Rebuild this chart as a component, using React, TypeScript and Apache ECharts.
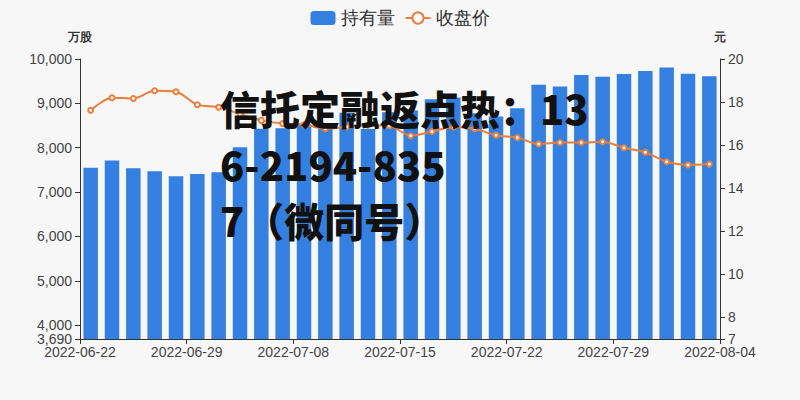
import React, { useEffect, useRef } from 'react';
import * as echarts from 'echarts';
import type { EChartsType } from 'echarts';

const dates = [
  '2022-06-22', '2022-06-23', '2022-06-24', '2022-06-27', '2022-06-28',
  '2022-06-29', '2022-06-30', '2022-07-01', '2022-07-04', '2022-07-05',
  '2022-07-08', '2022-07-11', '2022-07-12', '2022-07-13', '2022-07-14',
  '2022-07-15', '2022-07-18', '2022-07-19', '2022-07-20', '2022-07-21',
  '2022-07-22', '2022-07-25', '2022-07-26', '2022-07-27', '2022-07-28',
  '2022-07-29', '2022-08-01', '2022-08-02', '2022-08-03', '2022-08-04'
];

// 持有量 (万股)
const holdings = [
  7550, 7710, 7540, 7470, 7360, 7410, 7450, 8010, 8430, 8440,
  8530, 8470, 8790, 8420, 8800, 8840, 9095, 9130, 8780, 8705,
  8890, 9420, 9380, 9640, 9600, 9660, 9730, 9810, 9670, 9610
];

// 收盘价 (元)
const closePrice = [
  17.62, 18.2, 18.17, 18.53, 18.48, 17.88, 17.76, 17.45, 17.15, 17.0,
  16.95, 16.76, 16.85, 16.92, 16.9, 16.44, 16.63, 16.84, 16.76, 16.46,
  16.35, 16.05, 16.12, 16.12, 16.16, 15.88, 15.67, 15.23, 15.08, 15.12
];

const xTickLabels = ['2022-06-22', '2022-06-29', '2022-07-08', '2022-07-15', '2022-07-22', '2022-07-29', '2022-08-04'];
const leftMin = 3690;
const leftTicks = [4000, 5000, 6000, 7000, 8000, 9000, 10000];
const rightTicks = [7, 8, 10, 12, 14, 16, 18, 20];

const watermark = '信托定融返点热：13\n6-2194-835\n7（微同号）';

const BAR_COLOR = '#3380e0';
const LINE_COLOR = '#ea7e3c';

const HoldingChart = () => {
  const chartRef = useRef<HTMLDivElement>(null);

  useEffect(() => {
    document.body.style.margin = '0';
    let chart: EChartsType | null = null;

    if (chartRef.current) {
      chart = echarts.init(chartRef.current, null, { renderer: 'svg' });

      const axisText = { color: '#444', fontSize: 14 };
      const thousands = (v: number) => v.toLocaleString('en-US');

      chart.setOption({
        animation: false,
        backgroundColor: '#f7f7f7',
        legend: {
          top: 4,
          left: 'center',
          itemWidth: 25,
          itemHeight: 14,
          itemGap: 10,
          textStyle: { fontSize: 18, color: '#333' },
          data: ['持有量', '收盘价']
        },
        grid: { left: 80, right: 80, top: 59, bottom: 61 },
        xAxis: [
          {
            type: 'category',
            data: dates,
            show: false
          },
          {
            type: 'value',
            min: 0,
            max: 30,
            interval: 5,
            position: 'bottom',
            axisLine: { lineStyle: { color: '#333' } },
            axisTick: { show: true, length: 5, lineStyle: { color: '#333' } },
            splitLine: { show: false },
            axisLabel: {
              ...axisText,
              margin: 6,
              hideOverlap: false,
              formatter: (v: number) => xTickLabels[Math.round(v / 5)] ?? ''
            }
          }
        ],
        yAxis: [
          {
            type: 'value',
            name: '万股',
            nameGap: 16,
            nameTextStyle: { fontSize: 12, fontWeight: 'bold', color: '#333', align: 'center' },
            min: leftMin,
            max: 10000,
            splitLine: { show: false },
            axisLine: { show: true, lineStyle: { color: '#333' } },
            axisTick: { show: true, length: 5, customValues: leftTicks, lineStyle: { color: '#333' } },
            axisLabel: {
              ...axisText,
              margin: 8,
              customValues: leftTicks,
              formatter: thousands
            }
          },
          {
            type: 'value',
            name: '元',
            nameGap: 16,
            nameTextStyle: { fontSize: 12, fontWeight: 'bold', color: '#333', align: 'center' },
            min: 7,
            max: 20,
            position: 'right',
            splitLine: { show: false },
            axisLine: { show: true, lineStyle: { color: '#333' } },
            axisTick: { show: true, length: 5, customValues: rightTicks, lineStyle: { color: '#333' } },
            axisLabel: {
              ...axisText,
              margin: 8,
              showMinLabel: true,
              hideOverlap: false,
              customValues: rightTicks
            }
          },
          {
            // second left axis only for the min label (3,690), so it is not hidden by 4,000
            type: 'value',
            position: 'left',
            min: leftMin,
            max: 10000,
            splitLine: { show: false },
            axisLine: { show: false },
            axisTick: { show: true, length: 5, customValues: [leftMin], lineStyle: { color: '#333' } },
            axisLabel: {
              ...axisText,
              margin: 8,
              customValues: [leftMin],
              formatter: thousands
            }
          }
        ],
        series: [
          {
            name: '持有量',
            type: 'bar',
            xAxisIndex: 0,
            yAxisIndex: 0,
            barWidth: '68%',
            itemStyle: { color: BAR_COLOR },
            data: holdings
          },
          {
            name: '收盘价',
            type: 'line',
            xAxisIndex: 0,
            yAxisIndex: 1,
            smooth: 0.3,
            symbol: 'emptyCircle',
            symbolSize: 5,
            itemStyle: { color: LINE_COLOR },
            lineStyle: { color: LINE_COLOR, width: 2 },
            data: closePrice
          }
        ],
        graphic: [
          {
            type: 'text',
            x: 220,
            y: 80,
            z: 100,
            style: {
              text: watermark,
              fill: '#111',
              fontSize: 40,
              fontWeight: 900,
              fontFamily: '"Noto Sans CJK SC", sans-serif',
              lineHeight: 56,
              verticalAlign: 'top'
            }
          }
        ]
      });
    }

    return () => {
      chart?.dispose();
    };
  }, []);

  return <div ref={chartRef} style={{ width: '800px', height: '400px' }}></div>;
};

export default function App() {
  return <HoldingChart />;
}
